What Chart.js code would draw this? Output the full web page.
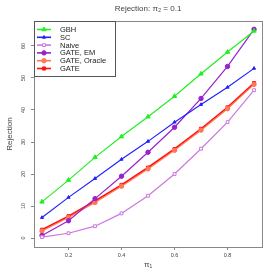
<!DOCTYPE html>
<html>
<head>
<meta charset="utf-8">
<script src="https://cdn.jsdelivr.net/npm/chart.js@4.4.0/dist/chart.umd.min.js"></script>
<style>
  html, body { margin: 0; padding: 0; background: #fff; }
  #wrap { width: 273px; height: 273px; }
</style>
</head>
<body>
<div id="wrap"><canvas id="chart" width="273" height="273"></canvas></div>
<script>
// data
const pi1 = [0.1, 0.2, 0.3, 0.4, 0.5, 0.6, 0.7, 0.8, 0.9];
const gbh = [11.3, 18.1, 25.2, 31.7, 37.9, 44.3, 51.3, 58.1, 64.7];
const sc = [6.4, 12.7, 18.6, 24.6, 30.2, 36.2, 41.7, 47.1, 53.0];
const naive = [0.3, 1.5, 3.7, 7.7, 13.2, 20.0, 27.9, 36.2, 46.2];
const gateEM = [0.8, 5.4, 12.3, 19.3, 26.8, 34.6, 43.6, 53.6, 65.2];
const gateOracle = [2.2, 6.4, 11.1, 16.2, 21.6, 27.4, 33.7, 40.4, 48.0];
const gate = [2.6, 6.8, 11.6, 16.6, 22.0, 27.8, 34.1, 40.8, 48.4];
const xTicks = [0.2, 0.4, 0.6, 0.8];
const yTicks = [0, 10, 20, 30, 40, 50, 60];
const titleText = "Rejection: π₂ = 0.1";

const series = [
  { label: "GBH", data: gbh, color: "#22ee22", style: "triangle", fill: true, r: 2.5 },
  { label: "SC", data: sc, color: "#2222ff", style: "triangle", fill: true, r: 1.8 },
  { label: "Naive", data: naive, color: "#cc77dd", style: "rect", fill: false, r: 2 },
  { label: "GATE, EM", data: gateEM, color: "#9922cc", style: "circle", fill: true, r: 2.2 },
  { label: "GATE, Oracle", data: gateOracle, color: "#ff7755", style: "circle", fill: true, r: 2.2 },
  { label: "GATE", data: gate, color: "#ff1111", style: "rect", fill: true, r: 2.2 },
];

const frameColor = "#888888";
const font = "Liberation Sans, Arial, sans-serif";

const datasets = series.map((s) => ({
  label: s.label,
  data: pi1.map((x, i) => ({ x: x, y: s.data[i] })),
  borderColor: s.color,
  backgroundColor: s.fill ? s.color : "#ffffff",
  pointBorderColor: s.color,
  pointBackgroundColor: s.fill ? s.color : "#ffffff",
  pointStyle: s.style,
  pointRadius: s.r,
  pointBorderWidth: 1,
  borderWidth: s.label === "GATE" ? 1.8 : 1.2,
  tension: 0,
  fill: false,
}));

// frame, title, rotated y labels, axis titles and legend box
const decorations = {
  id: "decorations",
  afterDraw(chart) {
    const ctx = chart.ctx;
    const a = chart.chartArea;
    const ys = chart.scales.y;
    ctx.save();
    ctx.strokeStyle = frameColor;
    ctx.lineWidth = 1;
    ctx.strokeRect(a.left + 0.5, a.top + 0.5, a.right - a.left, a.bottom - a.top);

    // title
    ctx.fillStyle = "#444";
    ctx.font = "8px " + font;
    ctx.textAlign = "center";
    ctx.textBaseline = "middle";
    ctx.fillText(titleText, (a.left + a.right) / 2, 9);

    // x axis title
    ctx.font = "8px " + font;
    ctx.fillText("π₁", (a.left + a.right) / 2, 265);

    // y axis title
    ctx.save();
    ctx.translate(10, (a.top + a.bottom) / 2);
    ctx.rotate(-Math.PI / 2);
    ctx.font = "8px " + font;
    ctx.fillText("Rejection", 0, 0);
    ctx.restore();

    // y tick labels rotated like base R
    ctx.font = "5.5px " + font;
    ctx.fillStyle = "#444";
    yTicks.forEach((v) => {
      const py = ys.getPixelForValue(v);
      ctx.save();
      ctx.translate(23, py);
      ctx.rotate(-Math.PI / 2);
      ctx.fillText(String(v), 0, 0);
      ctx.restore();
    });

    // legend
    const lx = a.left, ly = a.top;
    const lw = 81, lh = 55;
    ctx.fillStyle = "#fff";
    ctx.fillRect(lx, ly, lw, lh);
    ctx.strokeStyle = "#555";
    ctx.strokeRect(lx + 0.5, ly + 0.5, lw, lh);
    ctx.font = "7.5px " + font;
    ctx.textAlign = "left";
    series.forEach((s, i) => {
      const y = ly + 8.5 + i * 7.8;
      ctx.strokeStyle = s.color;
      ctx.lineWidth = 1.6;
      ctx.beginPath();
      ctx.moveTo(lx + 3, y);
      ctx.lineTo(lx + 17, y);
      ctx.stroke();
      ctx.lineWidth = 1;
      ctx.fillStyle = s.fill ? s.color : "#fff";
      Chart.helpers.drawPoint(ctx, { pointStyle: s.style, radius: s.r, rotation: 0, borderWidth: 1 }, lx + 10, y);
      ctx.fillStyle = "#222";
      ctx.fillText(s.label, lx + 26, y + 0.5);
    });
    ctx.restore();
  },
};

new Chart(document.getElementById("chart"), {
  type: "line",
  data: { datasets: datasets },
  options: {
    responsive: false,
    animation: false,
    devicePixelRatio: 1,
    layout: { padding: { left: 0, right: 11, top: 21, bottom: 0 } },
    plugins: { legend: { display: false }, tooltip: { enabled: false }, title: { display: false } },
    scales: {
      x: {
        type: "linear",
        min: 0.0698,
        max: 0.930,
        afterBuildTicks: (scale) => { scale.ticks = xTicks.map((v) => ({ value: v })); },
        afterFit: (scale) => { scale.height = 26; },
        grid: { display: true, drawOnChartArea: false, drawTicks: true, tickLength: 3, color: frameColor },
        border: { display: false },
        ticks: {
          color: "#444",
          font: { size: 5.5, family: font },
          padding: 2,
          maxRotation: 0,
          callback: (v) => v.toFixed(1),
        },
      },
      y: {
        type: "linear",
        min: -2.8,
        max: 67.8,
        afterBuildTicks: (scale) => { scale.ticks = yTicks.map((v) => ({ value: v })); },
        afterFit: (scale) => { scale.width = 34; },
        grid: { display: true, drawOnChartArea: false, drawTicks: true, tickLength: 3, color: frameColor },
        border: { display: false },
        ticks: { callback: () => "" },
      },
    },
  },
  plugins: [decorations],
});
</script>
</body>
</html>
